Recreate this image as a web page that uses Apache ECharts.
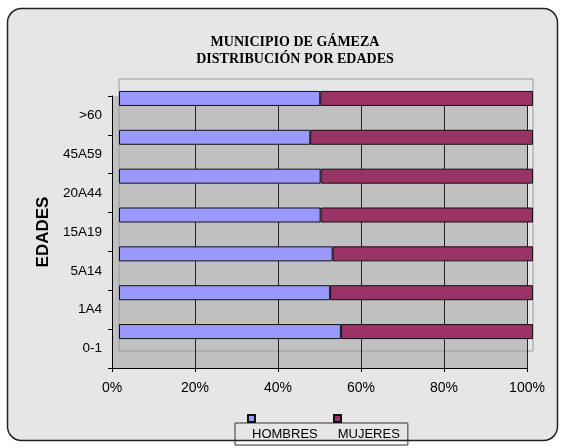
<!DOCTYPE html>
<html>
<head>
<meta charset="utf-8">
<script src="https://cdn.jsdelivr.net/npm/echarts@6/dist/echarts.min.js"></script>
<style>html,body{margin:0;padding:0;background:#fff}#c{width:565px;height:448px}</style>
</head>
<body>
<div id="c"></div>
<script>
const categories = ['0-1', '1A4', '5A14', '15A19', '20A44', '45A59', '>60'];
const hombres = [53.6, 51.0, 51.6, 48.7, 48.7, 46.2, 48.6];
const mujeres = [46.4, 49.0, 48.4, 51.3, 51.3, 53.8, 51.4];
const xTicks = [0, 20, 40, 60, 80, 100];
const seriesNames = ['HOMBRES', 'MUJERES'];
const colors = ['#9999ff', '#993366'];

const chart = echarts.init(document.getElementById('c'), null, {renderer: 'canvas'});
const sans = 'Liberation Sans, Arial, sans-serif';
const option = {
  animation: false,
  graphic: [{
    type: 'rect', z: -10, silent: true,
    shape: {x: 7.5, y: 8.5, width: 550, height: 432, r: 14},
    style: {fill: '#e6e6e6', stroke: '#222', lineWidth: 1.5}
  }],
  title: {
    text: 'MUNICIPIO DE GÁMEZA\nDISTRIBUCIÓN POR EDADES',
    left: 290, top: 29, textAlign: 'center',
    textStyle: {fontFamily: 'Liberation Serif, Times New Roman, serif', fontWeight: 'bold', fontSize: 14, lineHeight: 17, color: '#000'}
  },
  legend: [
    {data: ['HOMBRES'], left: 247, top: 414, itemWidth: 7, itemHeight: 7, icon: 'rect', formatter: () => '', padding: 0, textStyle: {fontSize: 1}},
    {data: ['MUJERES'], left: 333, top: 414, itemWidth: 7, itemHeight: 7, icon: 'rect', formatter: () => '', padding: 0, textStyle: {fontSize: 1}},
    {data: seriesNames, left: 235, top: 423, icon: 'none', itemWidth: 0, itemHeight: 0, itemGap: 15,
     padding: [3, 8, 3, 12], borderColor: '#333', borderWidth: 1,
     textStyle: {fontFamily: sans, fontSize: 13, color: '#000', lineHeight: 16}}
  ],
  grid: [
    {left: 112, right: 38, top: 96, bottom: 80, show: true, backgroundColor: '#c0c0c0', borderWidth: 0},
    {left: 119, right: 32, top: 79, bottom: 97, show: true, backgroundColor: 'transparent', borderColor: '#9a9a9a', borderWidth: 1}
  ],
  xAxis: [
    {gridIndex: 0, type: 'value', min: 0, max: 100, interval: 20,
     axisLine: {show: true, lineStyle: {color: '#000'}},
     axisTick: {show: true, length: 4, lineStyle: {color: '#000'}},
     axisLabel: {formatter: '{value}%', margin: 13, fontFamily: sans, fontSize: 14, color: '#000'},
     splitLine: {show: true, lineStyle: {color: '#222', width: 1}}},
    {gridIndex: 1, type: 'value', min: 0, max: 100, show: false}
  ],
  yAxis: [
    {gridIndex: 0, type: 'category', data: categories,
     name: 'EDADES', nameLocation: 'middle', nameRotate: 90, nameGap: 59,
     nameTextStyle: {fontFamily: sans, fontWeight: 'bold', fontSize: 17, color: '#000'},
     axisLine: {show: true, lineStyle: {color: '#000'}},
     axisTick: {show: true, length: 4, lineStyle: {color: '#000'}},
     axisLabel: {margin: 10, fontFamily: sans, fontSize: 13.5, color: '#000'},
     splitLine: {show: false}},
    {gridIndex: 1, type: 'category', data: categories, show: false}
  ],
  series: [
    {name: seriesNames[0], type: 'bar', stack: 'a', xAxisIndex: 1, yAxisIndex: 1, data: hombres, barWidth: 15,
     itemStyle: {color: colors[0], borderColor: '#111', borderWidth: 1}},
    {name: seriesNames[1], type: 'bar', stack: 'a', xAxisIndex: 1, yAxisIndex: 1, data: mujeres, barWidth: 15,
     itemStyle: {color: colors[1], borderColor: '#111', borderWidth: 1}}
  ]
};
chart.setOption(option);
</script>
</body>
</html>
